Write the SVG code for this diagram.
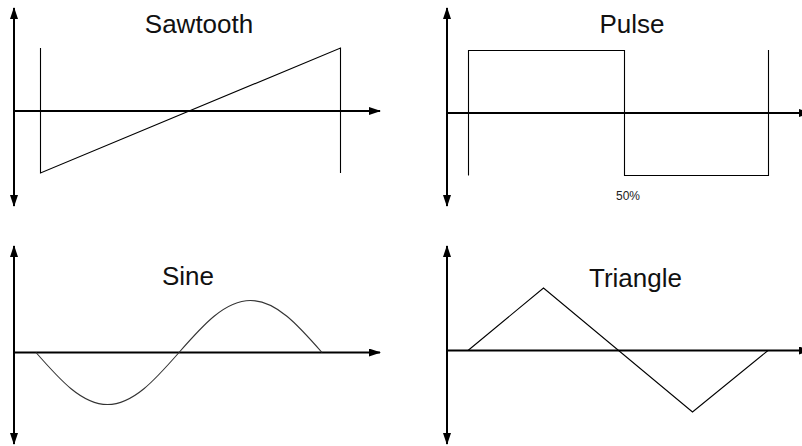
<svg xmlns="http://www.w3.org/2000/svg" width="802" height="446" viewBox="0 0 802 446">
<defs>
<marker id="ah" viewBox="0 0 12 8" refX="11" refY="4" markerWidth="12" markerHeight="8" markerUnits="userSpaceOnUse" orient="auto-start-reverse">
<path d="M0,0 L12,4 L0,8 Z" fill="#000"/>
</marker>
<style>
.axis{stroke:#000;stroke-width:2;fill:none}
.wave{stroke:#000;stroke-width:1.1;fill:none}
.sine{stroke:#333;stroke-width:1.1;fill:none}
.title{font-family:"Liberation Sans",Arial,sans-serif;font-size:26px;fill:#111;text-anchor:middle}
.small{font-family:"Liberation Sans",Arial,sans-serif;font-size:12px;fill:#222;text-anchor:middle}
</style>
</defs>
<rect width="802" height="446" fill="#fff"/>
<g id="connectors">
<line class="axis" x1="14" y1="206" x2="14" y2="8" marker-start="url(#ah)" marker-end="url(#ah)"/>
<line class="axis" x1="14" y1="111" x2="380" y2="111" marker-end="url(#ah)"/>
<line class="axis" x1="447" y1="206" x2="447" y2="8" marker-start="url(#ah)" marker-end="url(#ah)"/>
<line class="axis" x1="447" y1="113" x2="810" y2="113" marker-end="url(#ah)"/>
<line class="axis" x1="14" y1="444" x2="14" y2="246" marker-start="url(#ah)" marker-end="url(#ah)"/>
<line class="axis" x1="14" y1="352.5" x2="380" y2="352.5" marker-end="url(#ah)"/>
<line class="axis" x1="447" y1="444" x2="447" y2="246" marker-start="url(#ah)" marker-end="url(#ah)"/>
<line class="axis" x1="447" y1="350.5" x2="810" y2="350.5" marker-end="url(#ah)"/>
</g>
<g id="sawtooth">
<path class="wave" d="M40.5,48 L40.5,173 L340.5,48 L340.5,173"/>
<text class="title" x="199" y="33">Sawtooth</text>
</g>
<g id="pulse">
<path class="wave" d="M468.5,175.5 L468.5,50.5 L624.5,50.5 L624.5,175.5 L768.5,175.5 L768.5,50"/>
<text class="title" x="632" y="33">Pulse</text>
<text class="small" x="628" y="200">50%</text>
</g>
<g id="sine">
<path class="sine" d="M36,352.5 C59.9,379.8 81.8,404.5 107.5,404.5 C133.2,404.5 155.1,379.8 179,352.5 C202.9,325.2 224.8,300.5 250.5,300.5 C276.2,300.5 298.1,325.2 322,352.5"/>
<text class="title" x="188" y="285">Sine</text>
</g>
<g id="triangle">
<path class="wave" d="M468,350.5 L543.5,288 L692.5,412 L768,350.5"/>
<text class="title" x="635.5" y="286.5">Triangle</text>
</g>
</svg>
